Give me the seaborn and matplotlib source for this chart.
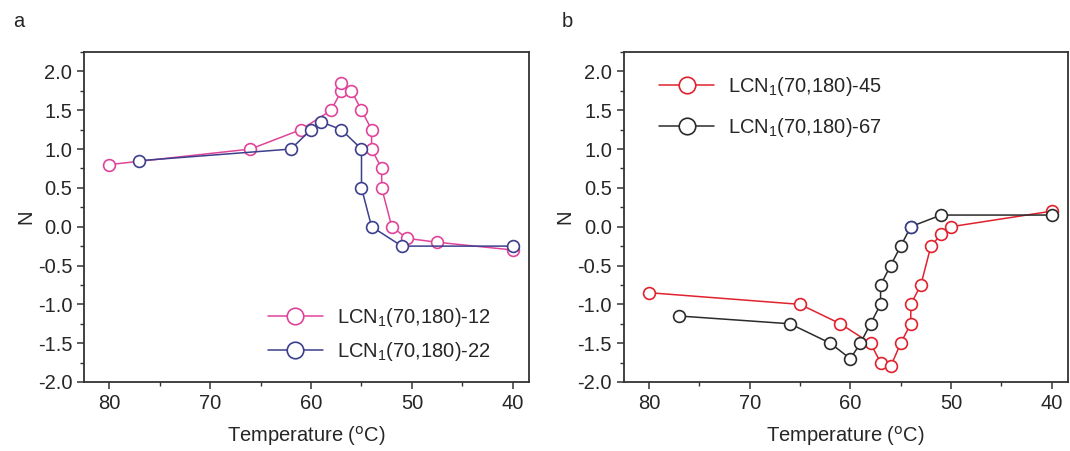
import matplotlib
matplotlib.use("Agg")
import matplotlib.pyplot as plt
from matplotlib.ticker import MultipleLocator
import seaborn as sns

# panel a
t12 = [80, 66, 61, 58, 57, 57, 56, 55, 54, 54, 53, 53, 52, 50.5, 47.5, 40]
n12 = [0.8, 1.0, 1.25, 1.5, 1.75, 1.85, 1.75, 1.5, 1.25, 1.0, 0.75, 0.5, 0.0, -0.15, -0.2, -0.3]
t22 = [77, 62, 60, 59, 57, 55, 55, 54, 51, 40]
n22 = [0.85, 1.0, 1.25, 1.35, 1.25, 1.0, 0.5, 0.0, -0.25, -0.25]

# panel b
t45 = [80, 65, 61, 58, 57, 56, 55, 54, 54, 53, 52, 51, 50, 40]
n45 = [-0.85, -1.0, -1.25, -1.5, -1.75, -1.8, -1.5, -1.25, -1.0, -0.75, -0.25, -0.1, 0.0, 0.2]
t67 = [77, 66, 62, 60, 59, 58, 57, 57, 56, 55, 54, 51, 40]
n67 = [-1.15, -1.25, -1.5, -1.7, -1.5, -1.25, -1.0, -0.75, -0.5, -0.25, 0.0, 0.15, 0.15]

labels_a = ["LCN$_1$(70,180)-12", "LCN$_1$(70,180)-22"]
labels_b = ["LCN$_1$(70,180)-45", "LCN$_1$(70,180)-67"]

pink = "#E0449A"
navy = "#3C3F8C"
red = "#E0222E"
black = "#2B2B2B"

sns.set_style("ticks")
plt.rcParams["font.family"] = ["Liberation Sans", "DejaVu Sans"]
plt.rcParams["mathtext.default"] = "regular"
plt.rcParams["font.size"] = 14.5
plt.rcParams["axes.edgecolor"] = "#333333"
plt.rcParams["axes.linewidth"] = 1.3

fig = plt.figure(figsize=(10.7, 4.51), dpi=100)
ax_a = fig.add_axes([0.0785, 0.153, 0.4159, 0.7317])
ax_b = fig.add_axes([0.583, 0.153, 0.415, 0.7317])


def draw(ax, t, n, color, label):
    sns.lineplot(x=t, y=n, ax=ax, sort=False, estimator=None, color=color,
                 linewidth=1.1, marker="o", markersize=8.5, markeredgewidth=1.2,
                 markerfacecolor="white", markeredgecolor=color, label=label)


draw(ax_a, t12, n12, pink, labels_a[0])
draw(ax_a, t22, n22, navy, labels_a[1])
draw(ax_b, t45, n45, red, labels_b[0])
draw(ax_b, t67, n67, black, labels_b[1])
# one marker in the reference is drawn with a blue edge
ax_b.plot(t67[10], n67[10], marker="o", markersize=8.5, markeredgewidth=1.2,
          markerfacecolor="white", markeredgecolor=navy, linestyle="none")

for ax in (ax_a, ax_b):
    ax.set_xlim(82.5, 38.4)
    ax.set_ylim(-2.0, 2.25)
    ax.xaxis.set_major_locator(MultipleLocator(10))
    ax.xaxis.set_minor_locator(MultipleLocator(5))
    ax.yaxis.set_major_locator(MultipleLocator(0.5))
    ax.yaxis.set_minor_locator(MultipleLocator(0.25))
    ax.set_yticks([-2.0, -1.5, -1.0, -0.5, 0.0, 0.5, 1.0, 1.5, 2.0])
    ax.yaxis.set_major_formatter(matplotlib.ticker.FormatStrFormatter("%.1f"))
    ax.tick_params(which="major", direction="out", length=5, width=1.1,
                   color="#333333", labelsize=14.5, top=False, right=False)
    ax.tick_params(which="minor", direction="out", length=3, width=1.0,
                   color="#333333", top=False, right=False)
    ax.set_xlabel("Temperature ($^{\\rm o}$C)", fontsize=14.5, labelpad=8)
    ax.set_ylabel("N", fontsize=14.5, labelpad=2)
    for s in ax.spines.values():
        s.set_visible(True)

ax_a.legend(loc="upper left", bbox_to_anchor=(0.413, 0.23), frameon=False,
            borderaxespad=0, borderpad=0, handlelength=2.75, handletextpad=0.7,
            labelspacing=0.55, markerscale=1.4, fontsize=14.5)
ax_b.legend(loc="upper left", bbox_to_anchor=(0.079, 0.93), frameon=False,
            borderaxespad=0, borderpad=0, handlelength=2.75, handletextpad=0.7,
            labelspacing=0.9, markerscale=1.4, fontsize=14.5)

fig.text(0.012, 0.94, "a", fontsize=14.5)
fig.text(0.525, 0.94, "b", fontsize=14.5)

fig.savefig("out.png", dpi=100)
